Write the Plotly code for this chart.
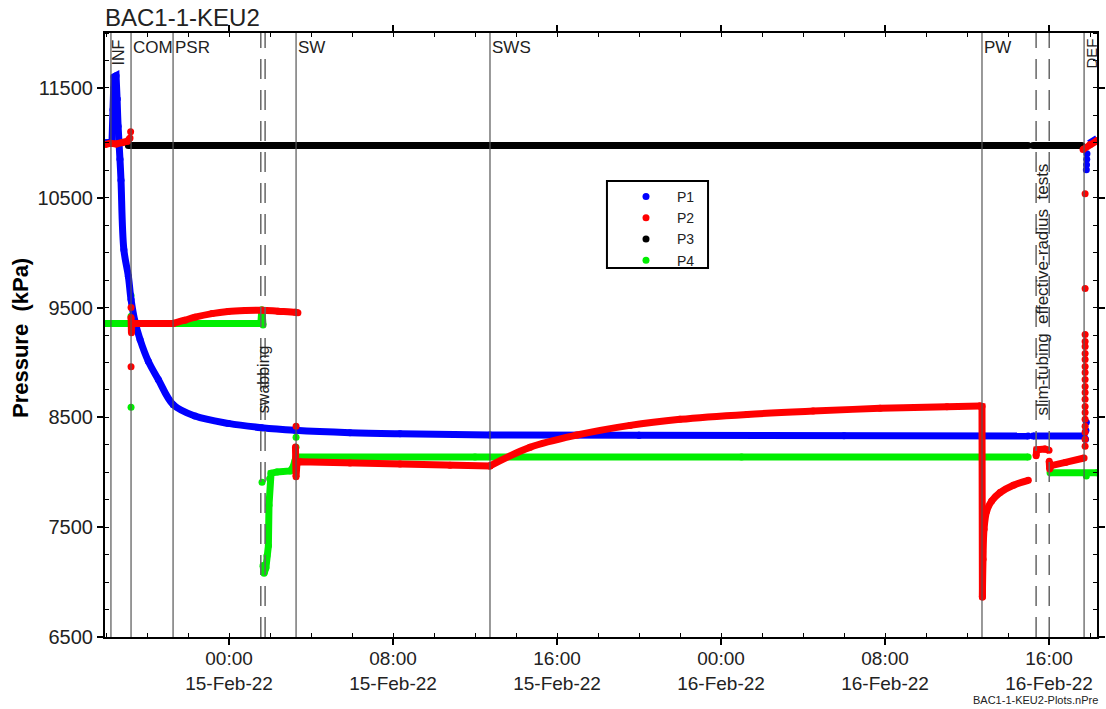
import pandas as pd
import plotly.graph_objects as go

# Elapsed hours are measured from 00:00 on 15-Feb-22
BASE = pd.Timestamp("2022-02-15 00:00")

# ---------------- pressure series (kPa) ----------------
# Straight runs (None marks a break in the record)
p1_hours = [-6.05, -5.71, -5.66, -5.61, -5.51, -5.46, None,
            20.00, 30.00, 38.98, None, 39.22, 41.71]
p1_kpa = [11000, 11005, 11300, 11600, 11610, 11400, None,
          8336, 8333, 8330, None, 8330, 8330]
# Smooth pressure fall-off after the peak
p1_curve_hours = [-5.46, -5.41, -5.32, -5.27, -5.13, -4.91, -4.78, -4.59, -4.34, -3.94,
                  -3.45, -2.72, -1.66, -0.03, 1.59, 3.22, 5.90, 8.34, 12.73, 20.00]
p1_curve_kpa = [11400, 11150, 10850, 10660, 10027, 9785, 9573, 9375, 9209, 9012,
                8845, 8615, 8512, 8445, 8406, 8382, 8360, 8350, 8340, 8336]
p1_tail_hours = [41.95, 42.34]
p1_tail_kpa = [10995, 11040]
p1_spot_hours = [-5.64, -5.63, -5.62, 41.78, 41.80, 41.82, 41.82, 41.83, 41.84, 41.85]
p1_spot_kpa = [11150, 11350, 11500, 8300, 8380, 8455, 10755, 10800, 10850, 10900]

p2_hours = [-6.05, -5.80, -5.50, -5.20, -4.95, -4.83, None,
            -4.78, -4.76, -4.74, -2.73, None,
            3.24, 3.27, 3.32, 3.46, 5.90, 8.34, 10.78, 12.73, None,
            36.63, 36.73, 36.75, None,
            39.37, 39.40, 39.80, 40.00, None,
            40.01, 40.03, 40.10, 40.80, 41.71, None,
            41.66, 42.00, 42.34]
p2_kpa = [10985, 10995, 10990, 11000, 11015, 11045, None,
          9410, 9270, 9355, 9355, None,
          8230, 7960, 8100, 8095, 8085, 8075, 8065, 8058, None,
          8603, 8600, 6864, None,
          8150, 8205, 8212, 8200, None,
          8100, 8030, 8060, 8090, 8130, None,
          10940, 10985, 11020]
# Smooth build-up / recovery curves
p2_curve_hours = [-2.73, -2.15, -1.66, -0.83, -0.05, 0.78, 1.61, 2.39, 3.22, 3.36, None,
                  12.73, 14.68, 16.98, 19.56, 22.00, 25.27, 28.49, 31.76, 35.02, 36.63, None,
                  36.75, 36.78, 36.83, 36.96, 37.20, 37.61, 38.26, 38.99]
p2_curve_kpa = [9355, 9385, 9412, 9445, 9464, 9473, 9476, 9467, 9457, 9452, None,
                8058, 8227, 8339, 8427, 8482, 8527, 8557, 8582, 8597, 8603, None,
                6864, 7209, 7482, 7648, 7739, 7815, 7882, 7927]
p2_spot_hours = [-4.80, -4.78, -4.78, 3.27,
                 41.76, 41.76, 41.76, 41.76, 41.76, 41.76, 41.76, 41.76, 41.76, 41.76,
                 41.76, 41.76, 41.76, 41.76, 41.76, 41.76, 41.76, 41.76, 41.76, 41.76]
p2_spot_kpa = [11100, 9500, 8960, 8418,
               8236, 8300, 8364, 8418, 8482, 8545, 8600, 8664, 8727, 8782,
               8845, 8909, 8964, 9027, 9082, 9145, 9191, 9255, 9673, 10536]

p3_hours = [-4.91, 12.00, 25.00, 38.98, None, 39.22, 41.60]
p3_kpa = [10975, 10975, 10975, 10975, None, 10975, 10975]

p4_hours = [-6.05, 1.55, 1.60, 1.66, None,
            1.66, 1.71, 1.80, 1.85, 1.92, 1.95, 1.98, 2.05, 2.34, 2.98, 3.12, 3.22, 3.27,
            12.00, 25.00, 38.98, None,
            40.05, 42.34]
p4_kpa = [9355, 9355, 9480, 9340, None,
          7150, 7080, 7130, 7240, 7330, 7700, 7940, 7990, 8003, 8012, 8045, 8103, 8140,
          8140, 8140, 8140, None,
          7995, 7995]
p4_spot_hours = [-4.78, -4.78, -4.78, 1.61, 3.27, 3.27, 41.82]
p4_spot_kpa = [9609, 9420, 8591, 7909, 8318, 8227, 7965]

# ---------------- events ----------------
event_names = ["INF", "COM", "PSR", "SW", "SWS", "PW", "DEF"]
event_hours = [-5.76, -4.78, -2.73, 3.27, 12.73, 36.73, 41.71]
dashed_hours = [1.55, 1.76, 39.37, 40.01]

# ---------------- axis ticks ----------------
x_range_hours = [-6.05, 42.34]
tick_hours = [0, 8, 16, 24, 32, 40]
tick_clock = ["00:00", "08:00", "16:00", "00:00", "08:00", "16:00"]
tick_dates = ["15-Feb-22", "15-Feb-22", "15-Feb-22", "16-Feb-22", "16-Feb-22", "16-Feb-22"]
y_ticks = [6500, 7500, 8500, 9500, 10500, 11500]


def to_time(hours):
    return [None if h is None else BASE + pd.Timedelta(hours=h) for h in hours]


FONT = "Arial, Liberation Sans, sans-serif"
TXT = "#222222"
LINE_W = 7

fig = go.Figure()

series = [
    # name, colour, straight runs, smooth runs, isolated readings, legend rank
    ("P4", "#00ee00", (p4_hours, p4_kpa), None, (p4_spot_hours, p4_spot_kpa), 4),
    ("P3", "#000000", (p3_hours, p3_kpa), None, ([], []), 3),
    ("P1", "#0000ff", (p1_hours, p1_kpa), (p1_curve_hours, p1_curve_kpa),
     (p1_spot_hours, p1_spot_kpa), 1),
    ("P2", "#ff0000", (p2_hours, p2_kpa), (p2_curve_hours, p2_curve_kpa),
     (p2_spot_hours, p2_spot_kpa), 2),
]

for name, colour, straight, smooth, spots, rank in series:
    if name == "P1":
        fig.add_trace(go.Scatter(x=to_time(p1_tail_hours), y=p1_tail_kpa, mode="lines",
                                 line=dict(color=colour, width=LINE_W), showlegend=False,
                                 hoverinfo="skip"))
    fig.add_trace(go.Scatter(x=to_time(straight[0]), y=straight[1], mode="lines",
                             line=dict(color=colour, width=LINE_W),
                             connectgaps=False, showlegend=False, hoverinfo="skip"))
    pts_h = [h for h in straight[0] if h is not None]
    pts_k = [k for k in straight[1] if k is not None]
    if smooth is not None:
        fig.add_trace(go.Scatter(x=to_time(smooth[0]), y=smooth[1], mode="lines",
                                 line=dict(color=colour, width=LINE_W, shape="spline",
                                           smoothing=1),
                                 connectgaps=False, showlegend=False, hoverinfo="skip"))
        pts_h += [h for h in smooth[0] if h is not None]
        pts_k += [k for k in smooth[1] if k is not None]
    pts_h += list(spots[0])
    pts_k += list(spots[1])
    fig.add_trace(go.Scatter(x=to_time(pts_h), y=pts_k, mode="markers", name=name,
                             marker=dict(color=colour, size=7, line=dict(width=0)),
                             legendrank=rank))

shapes = []
for h in event_hours:
    t = BASE + pd.Timedelta(hours=h)
    shapes.append(dict(type="line", xref="x", yref="paper", x0=t, x1=t, y0=0, y1=1,
                       line=dict(color="#555555", width=1.2), layer="above"))
for h in dashed_hours:
    t = BASE + pd.Timedelta(hours=h)
    shapes.append(dict(type="line", xref="x", yref="paper", x0=t, x1=t, y0=0, y1=1,
                       line=dict(color="#666666", width=1.5, dash="20px,11px"), layer="above"))
# legend frame
shapes.append(dict(type="rect", xref="paper", yref="paper", x0=0.506, x1=0.6079,
                   y0=0.611, y1=0.755, line=dict(color="#000000", width=2),
                   fillcolor="white", layer="above"))

annotations = []
# horizontal event labels, placed just right of their line
for name, h in zip(event_names, event_hours):
    if name in ("INF", "DEF"):
        continue
    annotations.append(dict(x=BASE + pd.Timedelta(hours=h), y=0.995, xref="x", yref="paper",
                            text=name, showarrow=False, xanchor="left", yanchor="top",
                            xshift=0, font=dict(size=17, color=TXT, family=FONT)))
# narrow events get vertical labels
annotations.append(dict(x=BASE + pd.Timedelta(hours=-5.37), y=0.9677, xref="x", yref="paper",
                        text="INF", textangle=-90, showarrow=False, xanchor="center",
                        yanchor="middle", font=dict(size=16, color=TXT, family=FONT)))
annotations.append(dict(x=BASE + pd.Timedelta(hours=42.05), y=0.966, xref="x", yref="paper",
                        text="DEF", textangle=-90, showarrow=False, xanchor="center",
                        yanchor="middle", font=dict(size=15, color=TXT, family=FONT)))
annotations.append(dict(x=BASE + pd.Timedelta(hours=1.66), y=0.427, xref="x", yref="paper",
                        text="swabbing", textangle=-90, showarrow=False, xanchor="center",
                        yanchor="middle", font=dict(size=16, color=TXT, family=FONT)))
annotations.append(dict(x=BASE + pd.Timedelta(hours=39.66), y=0.5753, xref="x", yref="paper",
                        text="slim-tubing  effective-radius  tests", textangle=-90,
                        showarrow=False, xanchor="center", yanchor="middle",
                        font=dict(size=17, color=TXT, family=FONT)))
# y-axis title
annotations.append(dict(x=-0.0857, y=0.495, xref="paper", yref="paper",
                        text="<b>Pressure  (kPa)</b>", textangle=-90, showarrow=False,
                        xanchor="center", yanchor="middle",
                        font=dict(size=22, color="#000000", family=FONT)))
# file tag
annotations.append(dict(x=1.003, y=-0.104, xref="paper", yref="paper",
                        text="BAC1-1-KEU2-Plots.nPre", showarrow=False, xanchor="right",
                        yanchor="middle", font=dict(size=11, color=TXT, family=FONT)))

fig.update_layout(
    width=1106, height=709,
    margin=dict(l=105, r=9, t=33, b=72, autoexpand=False),
    paper_bgcolor="white", plot_bgcolor="white",
    font=dict(family=FONT, color=TXT),
    title=dict(text="BAC1-1-KEU2", x=0.0, xref="paper", xanchor="left",
               y=(709 - 18) / 709, yref="container", yanchor="middle",
               font=dict(size=24, color=TXT, family=FONT)),
    showlegend=True,
    legend=dict(x=(613 - 105) / 992, y=(637 - 179) / 604, xanchor="left", yanchor="top",
                bgcolor="rgba(0,0,0,0)", bordercolor="rgba(0,0,0,0)", borderwidth=2,
                font=dict(size=14, color=TXT, family=FONT),
                itemwidth=52, traceorder="normal", tracegroupgap=0),
    shapes=shapes,
    annotations=annotations,
)

fig.update_xaxes(
    type="date", automargin=False,
    range=to_time(x_range_hours),
    tickmode="array", tickvals=to_time(tick_hours),
    ticktext=[c + "<br>" + d for c, d in zip(tick_clock, tick_dates)],
    ticks="outside", ticklen=6, tickwidth=1.5, tickcolor="#000000",
    ticklabelstandoff=-3,
    tickfont=dict(size=19, color=TXT, family=FONT),
    showline=True, linecolor="#000000", linewidth=2, mirror="allticks",
    showgrid=False, zeroline=False,
    minor=dict(tickmode="linear", tick0=BASE, dtick=2 * 3600 * 1000,
               ticks="inside", ticklen=4, tickwidth=1, tickcolor="#000000", showgrid=False),
)
fig.update_yaxes(
    automargin=False,
    range=[6500, 12000],
    tickmode="array", tickvals=y_ticks, ticktext=[str(v) for v in y_ticks],
    ticks="outside", ticklen=6, tickwidth=1.5, tickcolor="#000000",
    tickfont=dict(size=20, color=TXT, family=FONT),
    showline=True, linecolor="#000000", linewidth=2, mirror="allticks",
    showgrid=False, zeroline=False,
    minor=dict(tickmode="linear", tick0=6500, dtick=250,
               ticks="inside", ticklen=4, tickwidth=1, tickcolor="#000000", showgrid=False),
)

fig.write_html("out.html")
